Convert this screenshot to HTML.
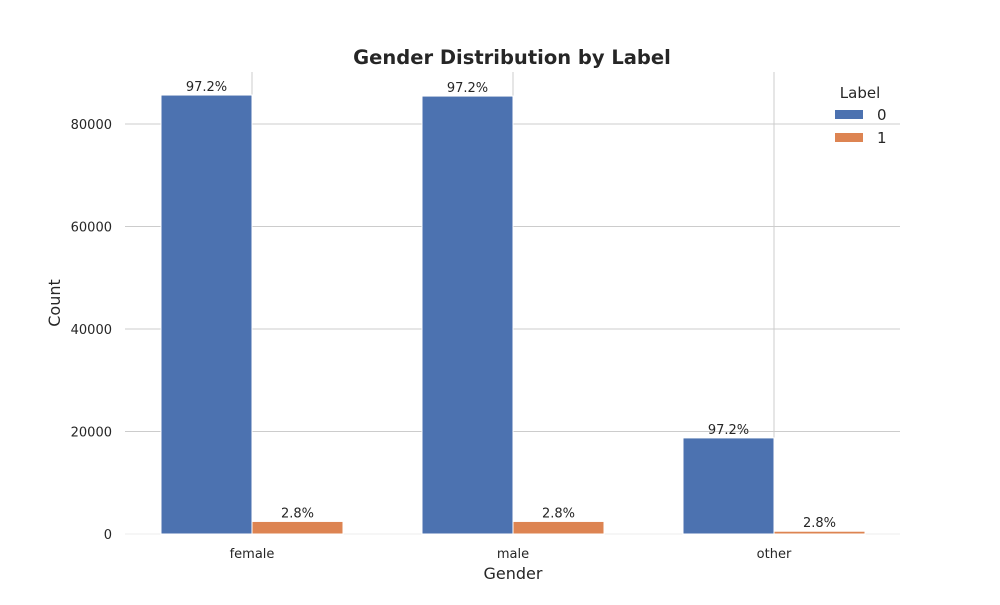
<!DOCTYPE html>
<html><head><meta charset="utf-8"><style>body{margin:0;background:#fff}svg text{font-family:"DejaVu Sans","Liberation Sans",sans-serif}</style></head>
<body>
<svg id="c" width="1000" height="600"></svg>
<script>
const categories=["female","male","other"];
const seriesNames=["0","1"];
const values0=[85650,85450,18750];
const values1=[2450,2450,540];
const labels0=["97.2%","97.2%","97.2%"];
const labels1=["2.8%","2.8%","2.8%"];
const yTicks=[0,20000,40000,60000,80000];
const colors=["#4c72b0","#dd8452"];
const svg=document.getElementById('c');const NS="http://www.w3.org/2000/svg";
function el(t,a,txt){const e=document.createElementNS(NS,t);for(const k in a)e.setAttribute(k,a[k]);if(txt!==undefined)e.textContent=txt;svg.appendChild(e);return e;}
const x0=125,x1=900,yTop=72,yBase=534;
const y=v=>yBase-v*(410/80000);
const xc=i=>252+i*261;const bw=91;
yTicks.forEach(t=>{let l=el('line',{x1:x0,x2:x1,y1:y(t),y2:y(t),stroke:t===0?'#eee':'#cccccc','stroke-width':1});

let tx=el('text',{x:112,y:y(t)+5,'text-anchor':'end','font-size':13,fill:'#262626'},String(t));
});
categories.forEach((c,i)=>{let l=el('line',{x1:xc(i),x2:xc(i),y1:yTop,y2:yBase,stroke:'#cccccc','stroke-width':1});

let tx=el('text',{x:xc(i),y:558,'text-anchor':'middle','font-size':13,fill:'#262626'},c);
});
categories.forEach((c,i)=>{[values0,values1].forEach((vals,s)=>{const bx=s===0?xc(i)-bw:xc(i);
let r=el('rect',{x:bx,y:y(vals[i]),width:bw,height:yBase-y(vals[i]),fill:colors[s],stroke:'#fff','stroke-width':1});

let t=el('text',{x:bx+bw/2,y:y(vals[i])-4,'text-anchor':'middle','font-size':13,fill:'#262626'},(s===0?labels0:labels1)[i]);
});});
let tt=el('text',{x:512,y:64,'text-anchor':'middle','font-size':19.5,'font-weight':'bold',fill:'#262626'},'Gender Distribution by Label');

let xt=el('text',{x:513,y:579,'text-anchor':'middle','font-size':16,fill:'#262626'},'Gender');

let yt=el('text',{x:60,y:303,'text-anchor':'middle','font-size':16,fill:'#262626',transform:'rotate(-90 60 303)'},'Count');

let lt=el('text',{x:860,y:98,'text-anchor':'middle','font-size':15,fill:'#262626'},'Label');

seriesNames.forEach((n,s)=>{const ly=115+s*23;
let r=el('rect',{x:835,y:ly-5,width:28,height:9,fill:colors[s]});

let t=el('text',{x:877,y:ly+5,'font-size':15,fill:'#262626'},n);
});
</script>
</body></html>
